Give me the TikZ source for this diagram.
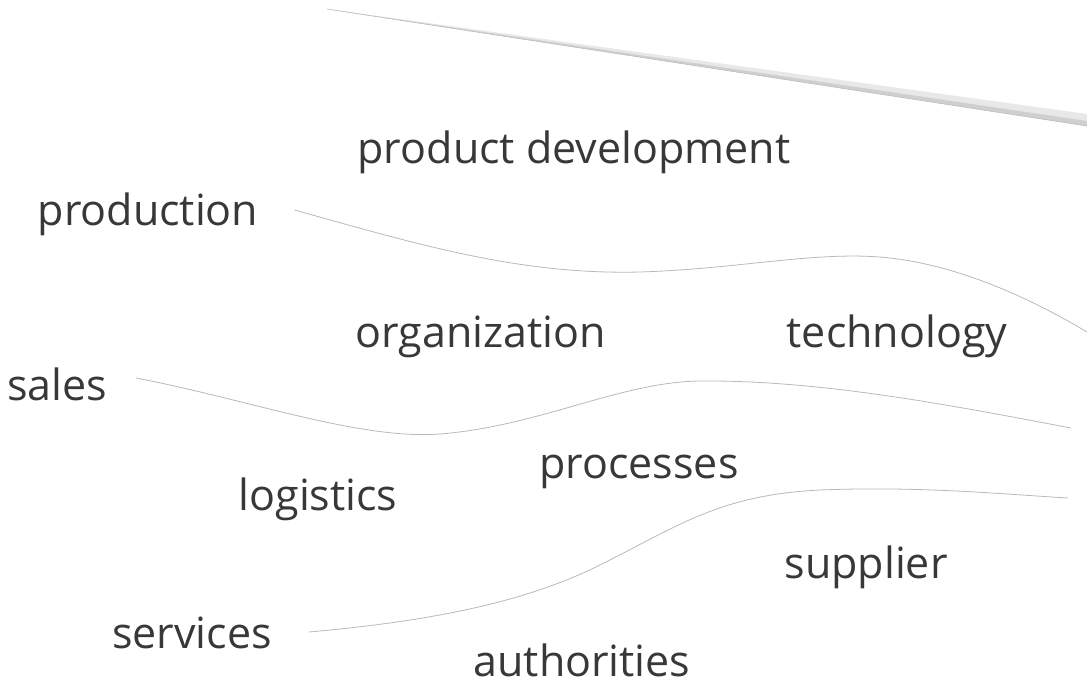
\documentclass[tikz,border=0pt]{standalone}
\usepackage{fontspec}
\setmainfont{Open Sans}
\usetikzlibrary{calc, positioning}

\newcommand{\termfont}{\fontsize{43}{51}\selectfont}
\tikzset{
  term/.style={font=\termfont, text=black!78, inner sep=0pt, anchor=base},
  flow/.style={draw=gray!55, line width=0.8pt},
}

\begin{document}
\begin{tikzpicture}[x=1pt,y=-1pt]
\useasboundingbox (0,0) rectangle (1087,685);

% Tapered bar at the top
\coordinate (barL) at (327,9);
\coordinate (barR) at (1087,120);
\fill[gray!18] (barL) -- (1087,114) -- (1087,126) -- cycle;
\fill[gray!38] (barL) -- (1087,121) -- (1087,126) -- cycle;
\draw[gray!50, line width=0.6pt] (barL) -- (1087,126);

% Labels
\node[term] (proddev) at (574,163) {product development};
\node[term] (production) at (148,225) {production};
\node[term] (organization) at (481,347) {organization};
\node[term] (technology) at (897,347) {technology};
\node[term] (sales) at (57,400) {sales};
\node[term] (processes) at (639,478) {processes};
\node[term] (logistics) at (318,510) {logistics};
\node[term] (supplier) at (866,578) {supplier};
\node[term] (services) at (192,648) {services};
\node[term] (authorities) at (582,676) {authorities};

% Free ends on the right
\coordinate (endA) at (1087,332);
\coordinate (endB) at (1071,428);
\coordinate (endC) at (1068,498);

% Flow lines
\draw[flow] ($(production.base east)+(36,-15)$)
  .. controls (420,245) and (520,275) .. (640,272)
  .. controls (740,269) and (820,250) .. (890,258)
  .. controls (960,266) and (1030,298) .. (endA);
\draw[flow] ($(sales.base east)+(29,-22)$)
  .. controls (250,400) and (360,440) .. (440,434)
  .. controls (540,426) and (620,382) .. (700,381)
  .. controls (820,380) and (950,405) .. (endB);
\draw[flow] ($(services.base east)+(37,-16)$)
  .. controls (420,622) and (520,605) .. (600,565)
  .. controls (680,525) and (720,495) .. (820,490)
  .. controls (920,486) and (1000,494) .. (endC);
\end{tikzpicture}
\end{document}
